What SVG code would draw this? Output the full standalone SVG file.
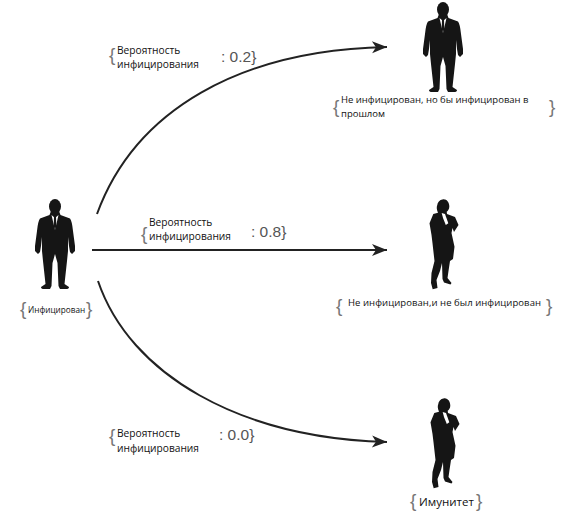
<svg xmlns="http://www.w3.org/2000/svg" xmlns:xlink="http://www.w3.org/1999/xlink" width="576" height="515" viewBox="0 0 576 515">
<style>
.t{font-family:"Open Sans","Liberation Sans",sans-serif;font-size:10.2px;fill:#111}
.s{font-size:9.5px}
.x{font-size:8.2px}
.i{font-size:11.5px}
.g{font-family:"Liberation Sans",sans-serif;font-size:15.5px;fill:#555}
.b{font-family:"Liberation Sans",sans-serif;font-size:19px;fill:#777}
.c{fill:none;stroke:#222;stroke-width:2}
</style>
<defs>
<marker id="a" markerUnits="userSpaceOnUse" markerWidth="18" markerHeight="14" refX="16" refY="7" orient="auto">
<path d="M16,7 L1,1 L5,7 L1,13 Z" fill="#222"/>
</marker>
<g id="man">
<ellipse cx="0" cy="7.5" rx="6" ry="7.5" fill="#151515"/>
<path fill="#151515" d="M-4,12 L4,12 L5.5,16 L15,19.5 Q17,22 18,32 L20,47 L20,52 L17,55 L15,53 L14,47 L13,38 L13,52 L12,62 L9.5,85 L14,88 Q14,90 11,90 L5,90 L3.5,87 L2.5,64 L0,55 L-2.5,64 L-3.5,87 L-5,90 L-11,90 Q-14,90 -14,88 L-9.5,85 L-12,62 L-13,52 L-13,38 L-14,47 L-15,53 L-17,55 L-20,52 L-20,47 L-18,32 Q-17,22 -15,19.5 L-5.5,16 Z"/>
<path fill="#fff" d="M-3.5,16 L0,31 L3.5,16 L0,19 Z"/>
<path fill="#151515" d="M-1,18 L1,18 L1.3,27 L0,31 L-1.3,27 Z"/>
</g>
<g id="woman">
<path fill="#151515" d="M0.3,0.3 C4,0 6.5,4 6.3,7.7 C6.2,10 5,12 3.7,12.7 L4,15 L12,18 L15.5,26 L11,33 L9.5,29 L8.5,34 L11.5,47.7 L10,60 L7,62 L5.5,72 L4.5,79 L8.5,84 L7.5,85.5 L1,83.5 L-0.5,80 L-1,64 L-3,72 L-6.5,81 L-5.5,89 L-10.3,90.3 L-12,84 L-11.5,74 L-8.5,62 L-10.5,44.3 L-11.5,36 L-13.5,24.3 L-9.7,15 L-5,13.7 C-6.5,10 -6.5,8 -5.7,6 C-5,2 -2,0.5 0.3,0.3 Z"/>
<path fill="#fff" d="M-1.3,14 L2,15 L5.3,24.3 L2.8,26 L0,19 Z"/>
</g>
</defs>
<g id="connectors">
<path class="c" marker-end="url(#a)" d="M97,214 C135,110 240,50 387,47"/>
<path class="c" marker-end="url(#a)" d="M92,250 L387,250"/>
<path class="c" marker-end="url(#a)" d="M98,281 C130,375 240,438 387,442"/>
</g>
<g id="node-infected">
<use xlink:href="#man" href="#man" x="55" y="199"/>
<text class="b" x="20" y="315">{</text>
<text class="t x" x="28" y="313">Инфицирован</text>
<text class="b" x="86" y="315">}</text>
</g>
<g id="node-top">
<use xlink:href="#man" href="#man" x="443" y="2"/>
<text class="b" x="333" y="113">{</text>
<text class="t s" x="341" y="103">Не инфицирован, но бы инфицирован в</text>
<text class="t s" x="341" y="117">прошлом</text>
<text class="b" x="549" y="113">}</text>
</g>
<g id="node-middle">
<use xlink:href="#woman" href="#woman" x="443" y="199"/>
<text class="b" x="336" y="312">{</text>
<text class="t s" x="348" y="306" textLength="193">Не инфицирован,и не был инфицирован</text>
<text class="b" x="546" y="312">}</text>
</g>
<g id="node-immune">
<use xlink:href="#woman" href="#woman" x="444" y="398"/>
<text class="b" x="410" y="507">{</text>
<text class="t i" x="419" y="506">Имунитет</text>
<text class="b" x="476" y="507">}</text>
</g>
<g id="label-top">
<text class="b" x="109" y="61">{</text>
<text class="t" x="117" y="54">Вероятность</text>
<text class="t" x="117" y="68">инфицирования</text>
<text class="g" x="221" y="62">: 0.2}</text>
</g>
<g id="label-middle">
<text class="b" x="141" y="240">{</text>
<text class="t" x="149" y="226">Вероятность</text>
<text class="t" x="149" y="240">инфицирования</text>
<text class="g" x="251" y="237">: 0.8}</text>
</g>
<g id="label-bottom">
<text class="b" x="109" y="442">{</text>
<text class="t" x="117" y="437">Вероятность</text>
<text class="t" x="117" y="452">инфицирования</text>
<text class="g" x="219" y="440">: 0.0}</text>
</g>
</svg>
